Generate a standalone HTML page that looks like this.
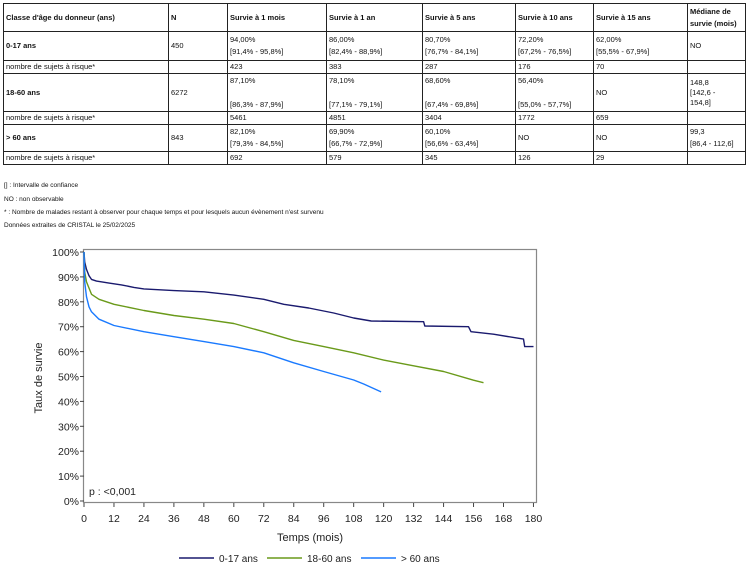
<!DOCTYPE html>
<html><head><meta charset="utf-8"><style>
body{margin:0;width:750px;height:567px;background:#fff;font-family:"Liberation Sans",sans-serif;position:relative;overflow:hidden}
table{position:absolute;left:3px;top:3px;border-collapse:collapse;table-layout:fixed;font-size:7.5px;color:#111}
td{border:1.5px solid #222;padding:0 2px;vertical-align:middle;line-height:12px;overflow:hidden}
td.b{font-weight:bold}
.fn{position:absolute;left:4px;font-size:6.5px;color:#111}
</style></head><body>
<table>
<colgroup><col style="width:165px"><col style="width:59px"><col style="width:99px"><col style="width:96px"><col style="width:93px"><col style="width:78px"><col style="width:94px"><col style="width:58px"></colgroup>
<tr style="height:28px"><td class="b">Classe d'âge du donneur (ans)</td><td class="b">N</td><td class="b">Survie à 1 mois</td><td class="b">Survie à 1 an</td><td class="b">Survie à 5 ans</td><td class="b">Survie à 10 ans</td><td class="b">Survie à 15 ans</td><td class="b">Médiane de survie (mois)</td></tr>
<tr style="height:29px"><td class="b">0-17 ans</td><td>450</td><td>94,00%<br>[91,4% - 95,8%]</td><td>86,00%<br>[82,4% - 88,9%]</td><td>80,70%<br>[76,7% - 84,1%]</td><td>72,20%<br>[67,2% - 76,5%]</td><td>62,00%<br>[55,5% - 67,9%]</td><td>NO</td></tr>
<tr style="height:12px"><td>nombre de sujets à risque*</td><td></td><td>423</td><td>383</td><td>287</td><td>176</td><td>70</td><td></td></tr>
<tr style="height:38px"><td class="b">18-60 ans</td><td>6272</td><td>87,10%<br><br>[86,3% - 87,9%]</td><td>78,10%<br><br>[77,1% - 79,1%]</td><td>68,60%<br><br>[67,4% - 69,8%]</td><td>56,40%<br><br>[55,0% - 57,7%]</td><td>NO</td><td style="line-height:10px">148,8<br>[142,6 -<br>154,8]</td></tr>
<tr style="height:13px"><td>nombre de sujets à risque*</td><td></td><td>5461</td><td>4851</td><td>3404</td><td>1772</td><td>659</td><td></td></tr>
<tr style="height:27px"><td class="b">&gt; 60 ans</td><td>843</td><td>82,10%<br>[79,3% - 84,5%]</td><td>69,90%<br>[66,7% - 72,9%]</td><td>60,10%<br>[56,6% - 63,4%]</td><td>NO</td><td>NO</td><td>99,3<br>[86,4 - 112,6]</td></tr>
<tr style="height:13px"><td>nombre de sujets à risque*</td><td></td><td>692</td><td>579</td><td>345</td><td>126</td><td>29</td><td></td></tr>
</table>
<div class="fn" style="top:182px">[] : Intervalle de confiance</div>
<div class="fn" style="top:196px">NO : non observable</div>
<div class="fn" style="top:209px">* : Nombre de malades restant à observer pour chaque temps et pour lesquels aucun évènement n'est survenu</div>
<div class="fn" style="top:222px">Données extraites de CRISTAL le 25/02/2025</div>
<svg width="750" height="567" style="position:absolute;left:0;top:0" font-family="Liberation Sans, sans-serif">
<rect x="83.5" y="249.5" width="453" height="253" fill="none" stroke="#888" stroke-width="1.2"/>
<g font-size="10.5" fill="#222" text-anchor="end" id="yt"></g>
<g font-size="10.5" fill="#222" text-anchor="middle" id="xt"></g>
<g stroke="#444" stroke-width="1" id="tk"></g>
<text x="42" y="378" font-size="11" fill="#222" transform="rotate(-90 42 378)" text-anchor="middle">Taux de survie</text>
<text x="310" y="541" font-size="11" fill="#222" text-anchor="middle">Temps (mois)</text>
<text x="89" y="495" font-size="10.5" fill="#222">p : &lt;0,001</text>
<g id="curves" fill="none" stroke-width="1.4"></g>
<line x1="179" y1="558" x2="214" y2="558" stroke="#1a1a6e" stroke-width="1.6"/><text x="219" y="562" font-size="10" fill="#222">0-17 ans</text>
<line x1="267" y1="558" x2="302" y2="558" stroke="#6a9a1a" stroke-width="1.6"/><text x="307" y="562" font-size="10" fill="#222">18-60 ans</text>
<line x1="361" y1="558" x2="396" y2="558" stroke="#1a7aff" stroke-width="1.6"/><text x="401" y="562" font-size="10" fill="#222">&gt; 60 ans</text>
</svg>
<script>
var X=m=>84+2.497*m,Y=p=>501-2.49*p,ns="http://www.w3.org/2000/svg";
function el(t,a,par,txt){var e=document.createElementNS(ns,t);for(var k in a)e.setAttribute(k,a[k]);if(txt!==undefined)e.textContent=txt;document.getElementById(par).appendChild(e);}
for(var i=0;i<=10;i++){var y=Y(i*10);el("text",{x:79,y:y+4},"yt",i*10+"%");el("line",{x1:80,x2:84,y1:y,y2:y},"tk");}
for(var m=0;m<=180;m+=12){var x=X(m);el("text",{x:x,y:522},"xt",m);el("line",{x1:x,x2:x,y1:503,y2:507},"tk");}
function curve(pts,c){var d="";pts.forEach(function(p,i){d+=(i?" L":"M")+X(p[0]).toFixed(1)+" "+Y(p[1]).toFixed(1);});el("path",{d:d,stroke:c,"stroke-linejoin":"round"},"curves");}
curve([[0,100],[0.3,96],[1,93],[2,90.5],[3,89],[5,88.3],[10,87.5],[15,86.8],[20,85.8],[24,85.2],[36,84.5],[48,84],[60,82.7],[72,81],[80,79],[90,77.5],[100,75.5],[108,73.5],[115,72.3],[136,72],[136.5,70.3],[154,70],[155,68],[164,67],[176,65],[176.5,62],[180,62]],"#1a1a6e");
curve([[0,100],[0.3,92],[1,88],[3,83],[6,81],[12,79],[24,76.5],[36,74.5],[48,73],[60,71.3],[72,68],[84,64.5],[96,62],[108,59.5],[120,56.6],[132,54.3],[144,52],[156,48.5],[160,47.5]],"#6a9a1a");
curve([[0,100],[0.3,88],[1,82],[2,78],[3,76],[6,73],[12,70.5],[24,68],[36,66],[48,64],[60,62],[72,59.5],[84,55.5],[96,52],[108,48.6],[112,47],[119,43.8]],"#1a7aff");
</script>
</body></html>
